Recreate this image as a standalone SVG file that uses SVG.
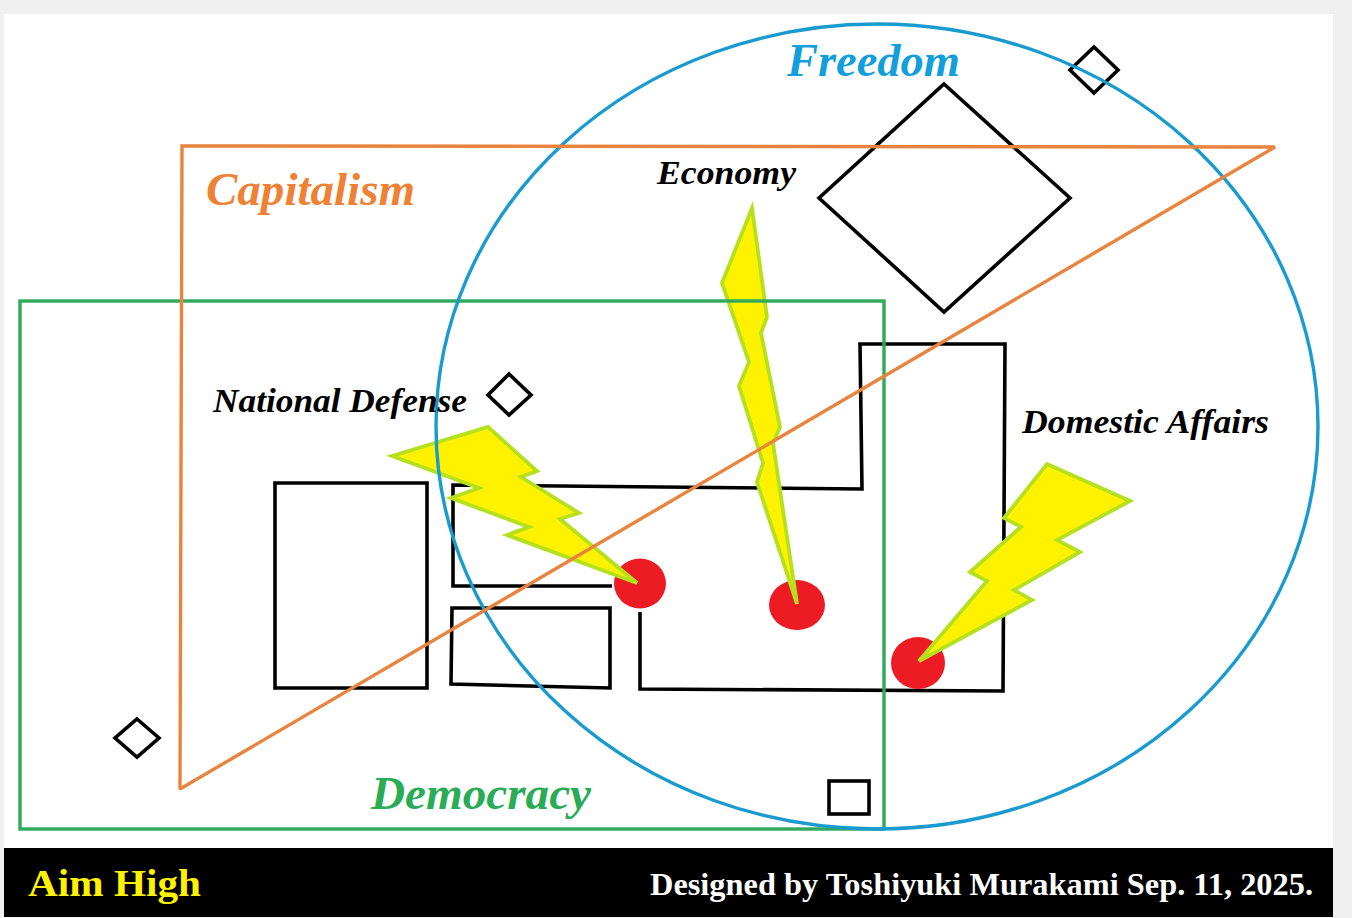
<svg xmlns="http://www.w3.org/2000/svg" width="1352" height="918" viewBox="0 0 1352 918">
<style>
.k{fill:none;stroke:#000;stroke-width:3.6;stroke-linejoin:miter}
.b{fill:#fff200;stroke:#b5e01e;stroke-width:3.8;stroke-linejoin:miter}
.r{fill:#ed1c24}
.t{font-family:"Liberation Serif","Times New Roman",serif;font-weight:bold;font-style:italic}
.f{font-family:"Liberation Serif","Times New Roman",serif;font-weight:bold}
</style>
<rect width="1352" height="918" fill="#f0f0f0"/>
<rect x="4" y="14" width="1329" height="834" fill="#fff"/>
<rect id="footer" x="4" y="848" width="1329" height="69" fill="#000"/>

<g id="buildings">
<polygon class="k" points="275,483 427,483 427,688 275,688"/>
<polyline class="k" points="612,586 453,586 453,485 862,489 860,344 1005,344 1003,691 640,689 640,612"/>
<polygon class="k" points="452,608 610,608 610,688 451,684"/>
</g>
<g id="diamonds">
<polygon class="k" points="944,84 1070,198 944,312 819,198"/>
<polygon class="k" points="1094,47 1118,70 1094,93 1070,70"/>
<polygon class="k" points="509,374 531,395 509,415 488,395"/>
<polygon class="k" points="137,719 159,738 137,757 115,738"/>
<rect class="k" x="829" y="781" width="40" height="33"/>
</g>
<g id="targets">
<ellipse class="r" cx="640" cy="583.5" rx="26" ry="25"/>
<ellipse class="r" cx="797" cy="605" rx="28" ry="25"/>
<ellipse class="r" cx="918" cy="663" rx="27" ry="26"/>
</g>
<g id="bolts">
<polygon class="b" points="392,456 488,427 537,471 521,477 579,513 560,519 637,583 507,535 529,527 451,498 479,488"/>
<polygon class="b" points="752,208 767,317 761,333 780,427 773,443 797,604 757,482 763,463 739,386 749,362 722,283"/>
<polygon class="b" points="1047,464 1130,501 1057,540 1080,552 1014,590 1032,600 919,661 987,581 970,572 1021,527 1004,518"/>
</g>
<g id="sets" fill="none" stroke-width="3.4">
<rect id="democracy" x="20" y="301" width="864" height="528" stroke="#2fa95a"/>
<ellipse id="freedom" cx="877" cy="426.5" rx="441" ry="402.5" stroke="#1a9bd0"/>
<polygon id="capitalism" points="182,146 1275,147 180,789" stroke="#e8843e" stroke-linejoin="miter" stroke-miterlimit="2"/>
</g>
<g id="labels">
<text class="t" x="787" y="76" font-size="46" fill="#129fdc" textLength="173" lengthAdjust="spacingAndGlyphs">Freedom</text>
<text class="t" x="206" y="205" font-size="46" fill="#ee8133" textLength="209" lengthAdjust="spacingAndGlyphs">Capitalism</text>
<text class="t" x="371" y="809" font-size="46" fill="#2aac57" textLength="220" lengthAdjust="spacingAndGlyphs">Democracy</text>
<text class="t" x="657" y="184" font-size="33" fill="#000" textLength="139" lengthAdjust="spacingAndGlyphs">Economy</text>
<text class="t" x="213" y="412" font-size="33" fill="#000" textLength="254" lengthAdjust="spacingAndGlyphs">National Defense</text>
<text class="t" x="1022" y="433" font-size="33" fill="#000" textLength="247" lengthAdjust="spacingAndGlyphs">Domestic Affairs</text>
<text class="f" x="28" y="896" font-size="37" fill="#fff200" textLength="173" lengthAdjust="spacingAndGlyphs">Aim High</text>
<text class="f" x="650" y="895" font-size="31" fill="#fff" textLength="663" lengthAdjust="spacingAndGlyphs">Designed by Toshiyuki Murakami Sep. 11, 2025.</text>
</g>
</svg>
